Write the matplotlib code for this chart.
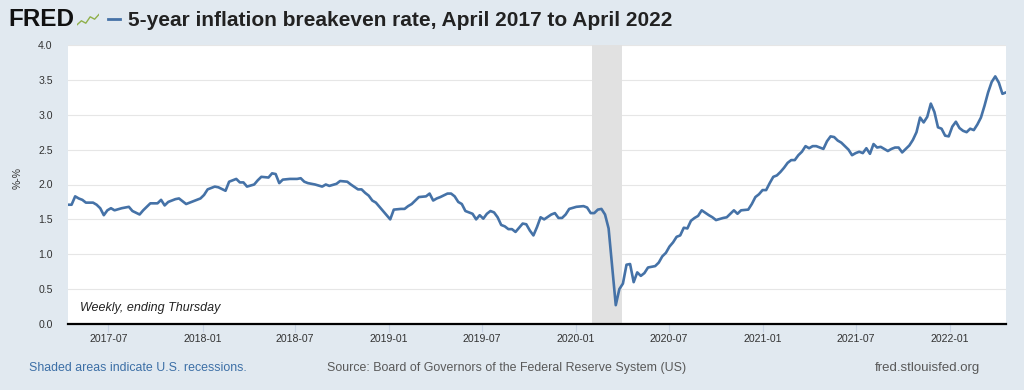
import matplotlib
matplotlib.use("Agg")
import matplotlib.pyplot as plt
import matplotlib.dates as mdates
from matplotlib.lines import Line2D
import numpy as np
import pandas as pd

plt.rcParams['font.family'] = ['Liberation Sans', 'DejaVu Sans']

# ---- data: weeks since 2017-04-13 (weekly, ending Thursday) and 5y breakeven (%)
start_date = "2017-04-13"
weeks_2017_18 = [0, 1, 2, 3, 4, 5, 7, 8, 9, 10, 11, 12, 13, 15, 16, 17, 18, 20, 21, 23, 25, 26,
                 27, 28, 30, 31, 33, 35, 37, 38, 39, 41, 42, 44, 45, 46, 47, 48, 49, 50, 52, 53,
                 54, 56, 57, 58, 59, 60, 62, 64, 65, 66]
rate_2017_18 = [1.71, 1.71, 1.83, 1.80, 1.78, 1.74, 1.74, 1.71, 1.66, 1.56, 1.63, 1.66, 1.63, 1.66,
                1.67, 1.68, 1.62, 1.57, 1.63, 1.73, 1.73, 1.78, 1.70, 1.75, 1.79, 1.80, 1.72, 1.76,
                1.80, 1.85, 1.93, 1.97, 1.96, 1.91, 2.04, 2.06, 2.08, 2.03, 2.03, 1.97, 2.00, 2.06,
                2.11, 2.10, 2.16, 2.15, 2.02, 2.07, 2.08, 2.08, 2.09, 2.04]
weeks_2018_19 = [67, 69, 71, 72, 73, 75, 76, 78, 79, 81, 82, 83, 84, 85, 86, 88, 89, 90, 91, 93,
                 94, 95, 96, 98, 100, 101, 102, 103, 104, 106, 107, 108, 109, 110, 111, 113, 114,
                 115, 116, 117, 118, 119, 120, 121, 122, 123, 124, 125, 127, 128, 129, 130]
rate_2018_19 = [2.02, 2.00, 1.97, 2.00, 1.98, 2.01, 2.05, 2.04, 2.00, 1.93, 1.93, 1.88, 1.84, 1.77,
                1.74, 1.62, 1.56, 1.50, 1.64, 1.65, 1.65, 1.69, 1.72, 1.82, 1.83, 1.87, 1.77, 1.80,
                1.82, 1.87, 1.87, 1.83, 1.75, 1.72, 1.62, 1.58, 1.50, 1.56, 1.51, 1.58, 1.62, 1.60,
                1.53, 1.42, 1.40, 1.36, 1.36, 1.32, 1.44, 1.43, 1.34, 1.27]
weeks_2019_21 = [131, 132, 133, 135, 136, 137, 138, 139, 140, 142, 144, 145, 146, 147, 148, 149,
                 150, 151, 152, 153, 154, 155, 156, 157, 158, 159, 160, 161, 162, 164, 165, 166,
                 167, 168, 169, 170, 171, 172, 173, 174, 175, 176, 177, 179, 180, 181, 183, 184,
                 186, 187, 188, 190, 191, 192, 193, 194, 195, 196, 197]
rate_2019_21 = [1.39, 1.53, 1.50, 1.57, 1.59, 1.52, 1.52, 1.57, 1.65, 1.68, 1.69, 1.67, 1.59, 1.59,
                1.64, 1.65, 1.57, 1.37, 0.82, 0.27, 0.50, 0.58, 0.85, 0.86, 0.60, 0.74, 0.69, 0.73,
                0.81, 0.83, 0.88, 0.97, 1.02, 1.11, 1.17, 1.25, 1.27, 1.38, 1.37, 1.48, 1.52, 1.55,
                1.63, 1.56, 1.53, 1.49, 1.52, 1.53, 1.63, 1.58, 1.63, 1.64, 1.72, 1.82, 1.86, 1.92,
                1.92, 2.02, 2.11]
weeks_2021_22 = [198, 199, 200, 201, 202, 203, 204, 205, 206, 207, 208, 209, 210, 211, 212, 213,
                 214, 215, 216, 218, 219, 220, 221, 222, 223, 224, 225, 226, 227, 228, 229, 230,
                 231, 232, 233, 234, 235, 236, 237, 238, 239, 240, 241, 242, 243, 244, 245, 246,
                 247, 248, 249, 250, 251, 252, 253, 254, 255, 256, 257, 258, 259, 260, 261, 262]
rate_2021_22 = [2.13, 2.18, 2.24, 2.31, 2.35, 2.35, 2.42, 2.47, 2.55, 2.52, 2.55, 2.55, 2.53, 2.51,
                2.62, 2.69, 2.68, 2.63, 2.60, 2.50, 2.42, 2.45, 2.47, 2.45, 2.52, 2.44, 2.58, 2.53,
                2.54, 2.51, 2.48, 2.51, 2.53, 2.53, 2.46, 2.51, 2.56, 2.64, 2.75, 2.96, 2.89, 2.97,
                3.16, 3.04, 2.82, 2.80, 2.70, 2.69, 2.83, 2.90, 2.81, 2.77, 2.75, 2.80, 2.78, 2.86,
                2.96, 3.13, 3.32, 3.47, 3.55, 3.46, 3.30, 3.32]

recession_start = "2020-02-01"
recession_end = "2020-04-01"
x_ticks = ["2017-07-01", "2018-01-01", "2018-07-01", "2019-01-01", "2019-07-01",
           "2020-01-01", "2020-07-01", "2021-01-01", "2021-07-01", "2022-01-01"]
y_ticks = [0.0, 0.5, 1.0, 1.5, 2.0, 2.5, 3.0, 3.5, 4.0]
logo_icon = [0.2, 0.45, 0.3, 0.7, 0.55, 0.85]

title = "5-year inflation breakeven rate, April 2017 to April 2022"

weeks = np.array(weeks_2017_18 + weeks_2018_19 + weeks_2019_21 + weeks_2021_22)
rates = np.array(rate_2017_18 + rate_2018_19 + rate_2019_21 + rate_2021_22)
dates = pd.Timestamp(start_date) + pd.to_timedelta(weeks * 7, unit="D")

W, H = 1024, 390
BG = "#e1e9f0"
fig = plt.figure(figsize=(W / 100, H / 100), dpi=100, facecolor=BG)

L, R, T, B = 68, 1006, 45, 324
ax = fig.add_axes([L / W, 1 - B / H, (R - L) / W, (B - T) / H])
ax.set_facecolor("white")
ax.plot(dates, rates, color="#4572a7", lw=1.9, solid_joinstyle="round", zorder=3)
ax.axvspan(pd.Timestamp(recession_start), pd.Timestamp(recession_end),
           color="#e1e1e1", lw=0, zorder=1)
ax.set_xlim(dates[0], dates[-1])
ax.set_ylim(0, 4)
ax.set_yticks(y_ticks)
ax.set_yticklabels([f"{v:.1f}" for v in y_ticks])
ax.set_xticks(pd.to_datetime(x_ticks))
ax.xaxis.set_major_formatter(mdates.DateFormatter("%Y-%m"))
ax.grid(axis="y", color="#e6e6e6", lw=0.8, zorder=0)
ax.set_axisbelow(True)
for s in ["left", "right", "top"]:
    ax.spines[s].set_visible(False)
ax.spines["bottom"].set_color("black")
ax.spines["bottom"].set_linewidth(1.6)
ax.spines["bottom"].set_zorder(5)
ax.tick_params(axis="y", length=0, pad=11, labelsize=7.6, labelcolor="#333333")
ax.tick_params(axis="x", length=6, width=0.8, color="#c8d4e4", pad=1,
               labelsize=7.6, labelcolor="#333333")

fig.text(18 / W, 1 - 178 / H, "%-%", rotation=90, ha="center", va="center",
         fontsize=7.5, color="#333333")
fig.text(80 / W, 1 - 308 / H, "Weekly, ending Thursday", ha="left", va="center",
         fontsize=9, style="italic", color="#222222")

# header
fig.text(8 / W, 1 - 19 / H, "FRED", ha="left", va="center", fontsize=17.5,
         fontweight="heavy", color="#111111")
icon = fig.add_axes([77 / W, 1 - 28 / H, 22 / W, 16 / H])
icon.set_facecolor(BG)
icon.plot(range(len(logo_icon)), logo_icon, color="#8fb04a", lw=1.0)
icon.set_xlim(0, len(logo_icon) - 1)
icon.set_ylim(0, 1)
icon.set_xticks([])
icon.set_yticks([])
for s in icon.spines.values():
    s.set_visible(False)
fig.add_artist(Line2D([108 / W, 120 / W], [1 - 19 / H, 1 - 19 / H],
                      color="#4572a7", lw=2.0, transform=fig.transFigure))
fig.text(128 / W, 1 - 20 / H, title, ha="left", va="center", fontsize=15,
         fontweight="bold", color="#222222")

# footer
fy = 1 - 368 / H
fig.text(29 / W, fy, "Shaded areas indicate U.S. recessions.", ha="left", va="center",
         fontsize=8.9, color="#3c6fa6")
fig.text(327 / W, fy, "Source: Board of Governors of the Federal Reserve System (US)",
         ha="left", va="center", fontsize=8.9, color="#595959")
fig.text(980 / W, fy, "fred.stlouisfed.org", ha="right", va="center",
         fontsize=9.5, color="#595959")

fig.savefig("out.png", dpi=100, facecolor=BG)
